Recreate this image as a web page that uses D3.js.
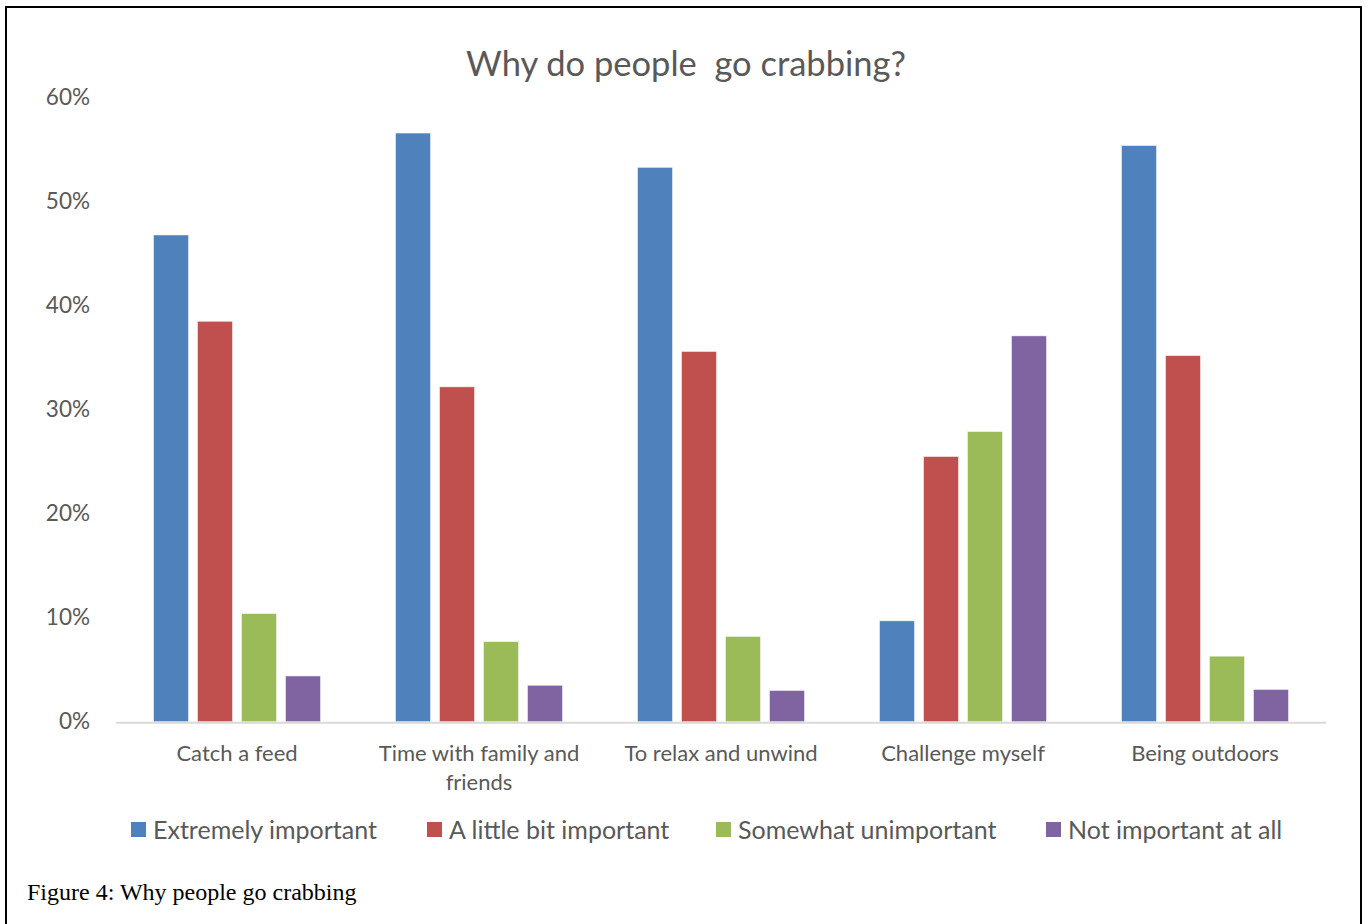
<!DOCTYPE html>
<html>
<head>
<meta charset="utf-8">
<script src="https://cdn.jsdelivr.net/npm/d3@7"></script>
<style>
  html, body { margin: 0; padding: 0; background: #fff; }
  svg { display: block; }
</style>
</head>
<body>
<svg id="chart" width="1368" height="924"></svg>
<script>
// Survey reasons and importance ratings (share of respondents)
const categories = ["Catch a feed", "Time with family and friends", "To relax and unwind", "Challenge myself", "Being outdoors"];
const seriesNames = ["Extremely important", "A little bit important", "Somewhat unimportant", "Not important at all"];
const extremelyImportant = [0.468, 0.566, 0.533, 0.097, 0.554];
const littleBitImportant = [0.385, 0.322, 0.356, 0.255, 0.352];
const somewhatUnimportant = [0.104, 0.077, 0.082, 0.279, 0.063];
const notImportantAtAll = [0.044, 0.035, 0.030, 0.371, 0.031];
const yTicks = [0, 0.1, 0.2, 0.3, 0.4, 0.5, 0.6];
const colors = ["#4f81bd", "#c0504d", "#9bbb59", "#8064a2"];

const seriesValues = [extremelyImportant, littleBitImportant, somewhatUnimportant, notImportantAtAll];
const rows = categories.map((c, i) => ({
  category: c,
  values: seriesNames.map((s, j) => ({ series: s, value: seriesValues[j][i] }))
}));

const svg = d3.select("#chart");
const font = "Lato, 'Open Sans', sans-serif";
const textColor = "#595959";

// Outer frame
svg.append("rect")
  .attr("x", 6).attr("y", 7).attr("width", 1355).attr("height", 930)
  .attr("fill", "none").attr("stroke", "#000").attr("stroke-width", 2);

const plot = { left: 116, right: 1326, top: 97.7, bottom: 721.7 };

const x0 = d3.scaleBand().domain(categories)
  .range([plot.left, plot.right]).paddingInner(0.31).paddingOuter(0.155);
const x1 = d3.scaleBand().domain(seriesNames)
  .range([0, x0.bandwidth()]).paddingInner(0.2045).paddingOuter(0);
const y = d3.scaleLinear().domain([0, 0.6]).range([plot.bottom, plot.top]);

// Title
svg.append("text")
  .attr("x", 686).attr("y", 76)
  .attr("text-anchor", "middle")
  .style("white-space", "pre")
  .attr("font-family", font).attr("font-size", 34.5)
  .attr("fill", textColor)
  .text("Why do people  go crabbing?");

// Y axis labels
const yAxis = d3.axisLeft(y).tickValues(yTicks).tickFormat(d3.format(".0%")).tickSize(0).tickPadding(0);
const yg = svg.append("g").attr("transform", `translate(90,0)`).call(yAxis);
yg.select(".domain").remove();
yg.selectAll("text")
  .attr("font-family", font).attr("font-size", 22.5).attr("fill", textColor);

// Bars
const groups = svg.append("g").selectAll("g").data(rows).join("g")
  .attr("transform", d => `translate(${x0(d.category)},0)`);
groups.selectAll("rect").data(d => d.values).join("rect")
  .attr("x", d => x1(d.series))
  .attr("y", d => y(d.value))
  .attr("width", x1.bandwidth())
  .attr("height", d => y(0) - y(d.value))
  .attr("fill", (d, i) => colors[i])
  .attr("stroke", "#fff").attr("stroke-opacity", 0.6).attr("stroke-width", 0.8);

// X axis
const xAxis = d3.axisBottom(x0).tickSize(0).tickPadding(0);
const xg = svg.append("g").attr("transform", `translate(0,${plot.bottom})`).call(xAxis);
xg.select(".domain").attr("stroke", "#d9d9d9").attr("stroke-width", 2)
  .attr("d", `M${plot.left},1H${plot.right}`);
xg.selectAll(".tick text").each(function(d) {
  const t = d3.select(this);
  t.text(null).attr("y", 0).attr("dy", 0)
    .attr("font-family", font).attr("font-size", 22).attr("fill", textColor);
  const lines = d === "Time with family and friends" ? ["Time with family and", "friends"] : [d];
  lines.forEach((ln, k) => {
    t.append("tspan").attr("x", 0).attr("y", 39 + k * 29).text(ln);
  });
});

// Legend
const legendX = [131, 427, 716, 1046];
const legend = svg.append("g").selectAll("g").data(seriesNames).join("g")
  .attr("transform", (d, i) => `translate(${legendX[i]},822)`);
legend.append("rect").attr("width", 15).attr("height", 15)
  .attr("fill", (d, i) => colors[i]);
legend.append("text").attr("x", 22).attr("y", 16.5)
  .attr("font-family", font).attr("font-size", 25).attr("fill", textColor)
  .text(d => d);

// Caption
svg.append("text")
  .attr("x", 27).attr("y", 900)
  .attr("font-family", "'Liberation Serif', 'Times New Roman', serif")
  .attr("font-size", 24).attr("fill", "#000")
  .text("Figure 4: Why people go crabbing");
</script>
</body>
</html>
